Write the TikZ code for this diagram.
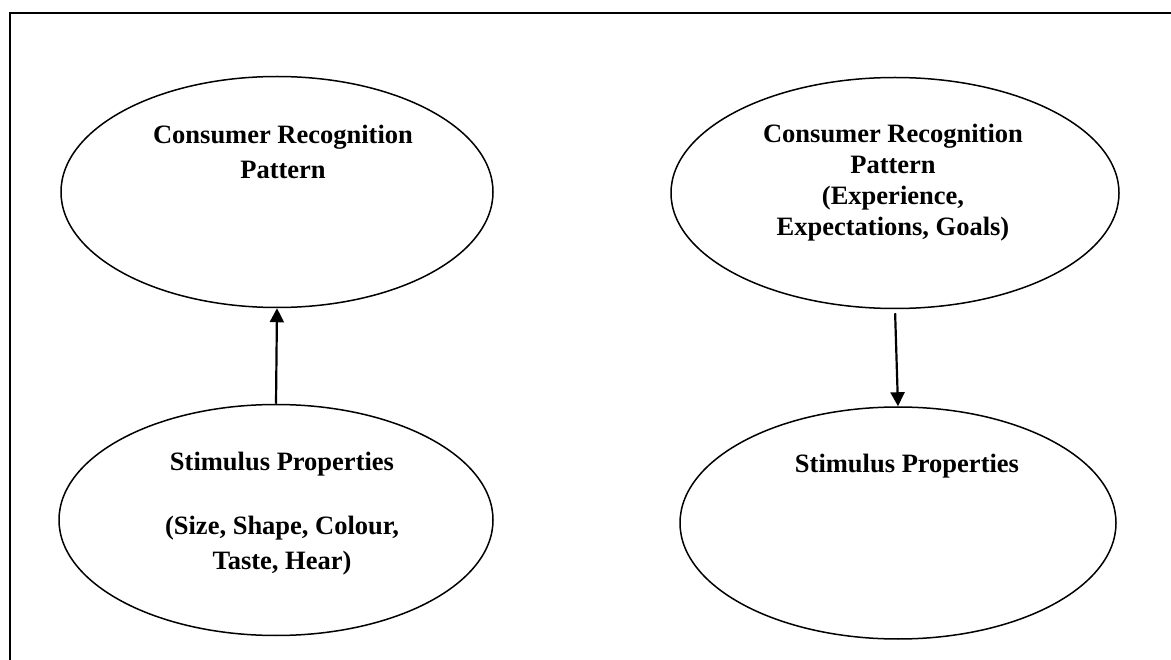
\documentclass[tikz,border=0pt]{standalone}
\usepackage{fontspec}
\setmainfont{Liberation Serif}
\usetikzlibrary{shapes.geometric,arrows.meta}
\begin{document}
\begin{tikzpicture}[x=1pt,y=-1pt,
  bubble/.style={draw,ellipse,line width=1.5pt,inner sep=0pt},
  caption/.style={align=center,font=\bfseries\fontsize{26.5}{35}\selectfont,inner sep=0pt,anchor=base},
  flow/.style={line width=2.2pt,-{Triangle[length=14pt,width=14pt]}}]
\useasboundingbox (0,0) rectangle (1171,660);
% open frame along the top and left edges
\draw[line width=2pt] (1180,13) -- (10,13) -- (10,670);

% left pair: stimulus feeds recognition
\node[bubble,minimum width=432pt,minimum height=231pt] (cl) at (277,192) {};
\node[bubble,minimum width=434pt,minimum height=231pt] (sl) at (276,520) {};
% captions are placed by the baseline of their last line
\node[caption] (tcl) at (283,179) {Consumer Recognition\\Pattern};
\node[caption] (tsl) at (282,569) {Stimulus Properties\\[29pt](Size, Shape, Colour,\\Taste, Hear)};
\draw[flow] (sl.north) -- (cl.south);

% right pair: recognition shapes the stimulus
\node[bubble,minimum width=448pt,minimum height=231pt] (cr) at (895,193) {};
\node[bubble,minimum width=436pt,minimum height=232pt] (sr) at (898,523) {};
\node[caption,font=\bfseries\fontsize{26.5}{31}\selectfont] (tcr) at (893,236) {Consumer Recognition\\Pattern\\(Experience,\\Expectations, Goals)};
\node[caption] (tsr) at (907,472) {Stimulus Properties};
\draw[flow,shorten <=4pt] (cr.south) -- (sr.north);
\end{tikzpicture}
\end{document}
